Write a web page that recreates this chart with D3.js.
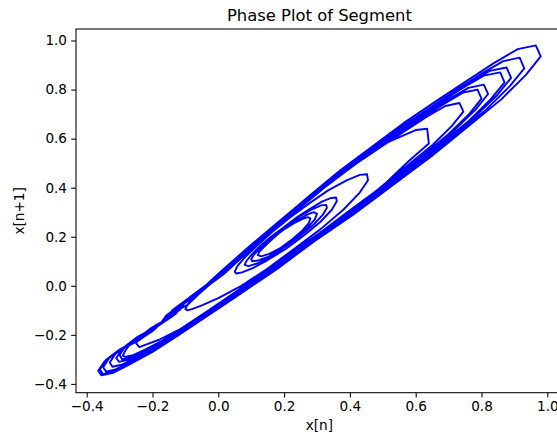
<!DOCTYPE html>
<html>
<head>
<meta charset="utf-8">
<script src="https://cdn.jsdelivr.net/npm/d3@7"></script>
<style>
  html, body { margin: 0; padding: 0; background: #fff; }
  svg { display: block; font-family: "DejaVu Sans", sans-serif; }
</style>
</head>
<body>
<svg id="chart" width="557" height="439"></svg>
<script>
// Signal segment x[n]; the phase plot pairs each sample with the next one.
const signal = [
  // small oscillations around 0.2
  0.20, 0.23, 0.255, 0.272, 0.28, 0.275, 0.255, 0.225, 0.19, 0.155, 0.13, 0.12,
  0.125, 0.14, 0.16, 0.185, 0.215, 0.245, 0.27, 0.29, 0.30, 0.293, 0.27, 0.235, 0.195, 0.155, 0.12, 0.103, 0.10,
  0.107, 0.125, 0.15, 0.18, 0.215, 0.25, 0.285, 0.312, 0.328, 0.33, 0.318, 0.29, 0.25, 0.205, 0.16, 0.12, 0.092, 0.08,
  0.085, 0.10, 0.125, 0.16, 0.20, 0.24, 0.28, 0.315, 0.343, 0.358, 0.36, 0.345, 0.31, 0.26, 0.205, 0.15, 0.105, 0.072, 0.055, 0.05,
  // growing cycles
  0.058, 0.08, 0.115, 0.16, 0.215, 0.275, 0.335, 0.39, 0.43, 0.452, 0.455,
  0.43, 0.38, 0.31, 0.23, 0.15, 0.07, 0.0, -0.05, -0.08, -0.095, -0.10,
  -0.095, -0.08, -0.06, -0.035, -0.005, 0.03, 0.075, 0.13, 0.195, 0.27, 0.35, 0.44, 0.54, 0.60, 0.635, 0.64,
  0.58, 0.51, 0.42, 0.32, 0.22, 0.12, 0.03, -0.05, -0.12, -0.18, -0.22, -0.24, -0.25,
  // large cycles
  -0.234, -0.203, -0.171, -0.148, -0.132, -0.117, -0.094, -0.078, -0.046, -0.015, 0.017, 0.048, 0.087, 0.134, 0.189, 0.252, 0.322, 0.400, 0.479, 0.557, 0.628, 0.691, 0.745, 0.788, 0.80,
  0.763, 0.701, 0.620, 0.529, 0.430, 0.333, 0.234, 0.143, 0.053, -0.029, -0.103, -0.169, -0.226, -0.267, -0.292, -0.30,
  -0.282, -0.245, -0.208, -0.181, -0.162, -0.144, -0.117, -0.098, -0.061, -0.024, 0.012, 0.049, 0.095, 0.150, 0.214, 0.288, 0.370, 0.461, 0.554, 0.646, 0.728, 0.802, 0.866, 0.916, 0.93,
  0.886, 0.814, 0.718, 0.613, 0.497, 0.382, 0.266, 0.160, 0.054, -0.043, -0.129, -0.206, -0.274, -0.321, -0.351, -0.36,
  -0.34, -0.30, -0.26, -0.23, -0.21, -0.19, -0.16, -0.14, -0.10, -0.06, -0.02, 0.02, 0.07, 0.13, 0.20, 0.28, 0.37, 0.47, 0.57, 0.67, 0.76, 0.84, 0.91, 0.965, 0.98,
  0.935, 0.86, 0.76, 0.65, 0.53, 0.41, 0.29, 0.18, 0.07, -0.03, -0.12, -0.20, -0.27, -0.32, -0.355, -0.365,
  -0.346, -0.309, -0.271, -0.243, -0.224, -0.206, -0.178, -0.159, -0.122, -0.084, -0.046, -0.009, 0.038, 0.094, 0.160, 0.235, 0.319, 0.412, 0.506, 0.600, 0.684, 0.759, 0.825, 0.876, 0.89,
  0.848, 0.778, 0.687, 0.585, 0.473, 0.363, 0.251, 0.150, 0.048, -0.045, -0.128, -0.202, -0.267, -0.313, -0.341, -0.35,
  -0.332, -0.295, -0.259, -0.232, -0.213, -0.195, -0.168, -0.150, -0.113, -0.077, -0.040, -0.004, 0.042, 0.097, 0.160, 0.233, 0.315, 0.405, 0.497, 0.588, 0.670, 0.743, 0.807, 0.857, 0.87,
  0.829, 0.762, 0.673, 0.575, 0.467, 0.360, 0.252, 0.154, 0.055, -0.035, -0.115, -0.187, -0.250, -0.294, -0.322, -0.33,
  -0.313, -0.278, -0.244, -0.218, -0.201, -0.184, -0.159, -0.141, -0.107, -0.072, -0.038, -0.003, 0.039, 0.091, 0.151, 0.220, 0.297, 0.382, 0.468, 0.554, 0.631, 0.700, 0.760, 0.807, 0.82,
  0.782, 0.718, 0.635, 0.542, 0.440, 0.340, 0.238, 0.145, 0.053, -0.032, -0.108, -0.176, -0.234, -0.276, -0.302, -0.31,
  -0.294, -0.263, -0.231, -0.208, -0.192, -0.176, -0.153, -0.137, -0.105, -0.074, -0.042, -0.010, 0.029, 0.076, 0.131, 0.194, 0.265, 0.343, 0.422, 0.501, 0.572, 0.635, 0.690, 0.733, 0.745,
  0.710, 0.652, 0.575, 0.490, 0.397, 0.305, 0.212, 0.127, 0.042, -0.035, -0.105, -0.167, -0.221, -0.259, -0.283, -0.29,
  -0.285, -0.27, -0.24, -0.21, -0.19, -0.17, -0.145, -0.12, -0.09, -0.05, -0.01, 0.03, 0.08
];

const xTicks = [-0.4, -0.2, 0.0, 0.2, 0.4, 0.6, 0.8, 1.0];
const yTicks = [-0.4, -0.2, 0.0, 0.2, 0.4, 0.6, 0.8, 1.0];
const xLimits = [-0.4325, 1.0471];
const yLimits = [-0.4358, 1.0469];

const titleText = "Phase Plot of Segment";
const xLabelText = "x[n]";
const yLabelText = "x[n+1]";

// (x[n], x[n+1]) pairs
const pairs = d3.pairs(signal);

const plot = { left: 76, top: 29, right: 562.8, bottom: 392.7 };
const svg = d3.select("#chart");

const x = d3.scaleLinear().domain(xLimits).range([plot.left, plot.right]);
const y = d3.scaleLinear().domain(yLimits).range([plot.bottom, plot.top]);
const fmt = d3.format(".1f");

svg.append("defs").append("clipPath").attr("id", "clip")
  .append("rect")
  .attr("x", plot.left).attr("y", plot.top)
  .attr("width", plot.right - plot.left).attr("height", plot.bottom - plot.top);

// trajectory
svg.append("path")
  .datum(pairs)
  .attr("clip-path", "url(#clip)")
  .attr("fill", "none")
  .attr("stroke", "#0000ff")
  .attr("stroke-width", 1.9)
  .attr("stroke-linejoin", "round")
  .attr("d", d3.line().x(d => x(d[0])).y(d => y(d[1])));

// axes
const xAxis = svg.append("g")
  .attr("transform", `translate(0,${plot.bottom})`)
  .call(d3.axisBottom(x).tickValues(xTicks).tickFormat(fmt).tickSize(4.8).tickPadding(4.2));
const yAxis = svg.append("g")
  .attr("transform", `translate(${plot.left},0)`)
  .call(d3.axisLeft(y).tickValues(yTicks).tickFormat(fmt).tickSize(4.8).tickPadding(4.2));

[xAxis, yAxis].forEach(g => {
  g.select(".domain").remove();
  g.selectAll(".tick line").attr("stroke", "#000").attr("stroke-width", 1.05);
  g.selectAll(".tick text")
    .attr("fill", "#000")
    .style("font-family", "'DejaVu Sans', sans-serif")
    .style("font-size", "13.6px");
});

// frame
svg.append("rect")
  .attr("x", plot.left).attr("y", plot.top)
  .attr("width", plot.right - plot.left).attr("height", plot.bottom - plot.top)
  .attr("fill", "none").attr("stroke", "#000").attr("stroke-width", 1.05);

// title and axis labels
svg.append("text")
  .attr("x", (plot.left + plot.right) / 2).attr("y", 21)
  .attr("text-anchor", "middle")
  .style("font-size", "16.4px")
  .text(titleText);

svg.append("text")
  .attr("x", (plot.left + plot.right) / 2).attr("y", 430)
  .attr("text-anchor", "middle")
  .style("font-size", "13.6px")
  .text(xLabelText);

svg.append("text")
  .attr("transform", `translate(24,${(plot.top + plot.bottom) / 2}) rotate(-90)`)
  .attr("text-anchor", "middle")
  .style("font-size", "13.6px")
  .text(yLabelText);
</script>
</body>
</html>
